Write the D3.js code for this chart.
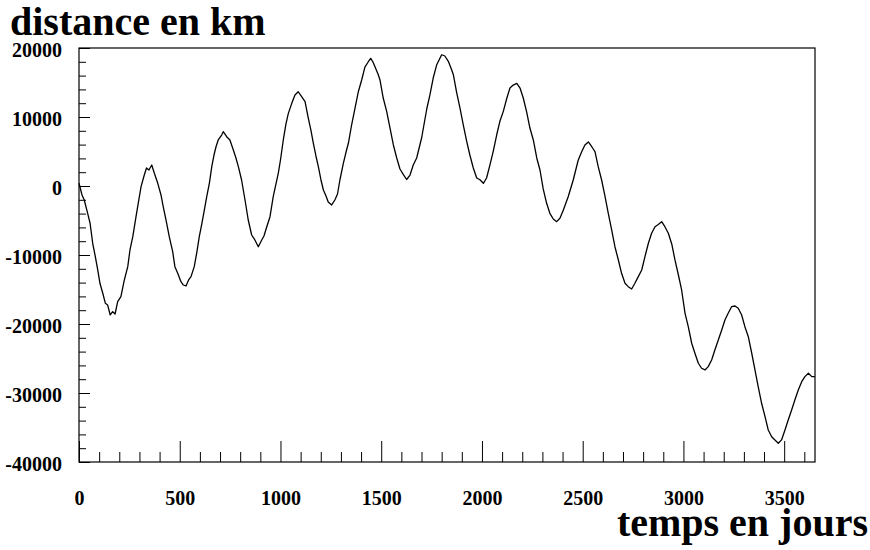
<!DOCTYPE html>
<html><head><meta charset="utf-8">
<script src="https://cdn.jsdelivr.net/npm/d3@7"></script>
<style>
body{margin:0;background:#fff}
svg{display:block}
text{font-family:"Liberation Serif","Times New Roman",serif;font-weight:bold;fill:#000}
</style>
</head><body><svg id="c" width="870" height="550"></svg>
<script>
// ---- data ----
const days=[0,15,26,43,55,68,81,93,104,118,131,142,155,167,179,192,208,225,242,253,267,283,294,308,324,335,347,361,374,391,407,418,432,448,465,476,490,506,518,531,544,556,572,584,597,610,622,634,647,659,670,680,691,708,716,733,749,766,779,791,807,824,840,857,873,890,907,918,932,948,964,989,1000,1014,1027,1039,1056,1072,1088,1105,1122,1138,1151,1163,1176,1188,1201,1213,1226,1237,1254,1270,1283,1295,1312,1328,1337,1353,1370,1386,1403,1419,1436,1448,1459,1469,1484,1494,1510,1527,1543,1560,1577,1593,1610,1626,1643,1659,1676,1701,1726,1742,1758,1775,1792,1800,1816,1833,1850,1858,1874,1891,1907,1924,1940,1957,1974,1990,2007,2023,2040,2056,2073,2089,2106,2123,2139,2155,2173,2189,2205,2222,2238,2255,2272,2288,2304,2321,2337,2354,2371,2387,2404,2428,2453,2478,2495,2511,2528,2545,2561,2577,2594,2611,2627,2644,2660,2677,2693,2710,2726,2743,2759,2776,2793,2809,2826,2842,2859,2875,2892,2908,2925,2942,2958,2975,2991,3008,3024,3041,3057,3074,3090,3107,3123,3140,3156,3173,3190,3206,3222,3239,3256,3272,3289,3305,3322,3339,3355,3371,3388,3405,3421,3438,3454,3471,3487,3504,3520,3537,3553,3570,3587,3603,3620,3637,3653];
const distanceKm=[400,-1300,-2030,-3960,-5400,-8300,-10240,-12170,-14100,-15550,-17000,-17240,-18690,-18210,-18550,-16760,-16040,-13620,-11690,-9270,-7340,-4450,-2510,-100,1590,2610,2320,3040,1840,390,-1300,-3000,-4930,-7350,-9520,-11690,-12650,-13870,-14350,-14490,-13620,-13140,-11690,-9750,-7350,-5400,-3480,-1550,390,2800,4490,5690,6670,7390,7870,7140,6670,5220,4060,2800,870,-2030,-4930,-7100,-7820,-8800,-7820,-7250,-5900,-4450,-1550,1840,3770,6670,8980,10530,11980,13190,13660,12940,12220,9850,8110,6230,4350,2800,870,-580,-1450,-2320,-2750,-2030,-1160,870,3290,5220,6190,8840,11300,13620,15360,17240,18010,18500,17970,17290,16230,15360,12750,10820,8480,5980,4060,2460,1640,940,1590,3040,4060,7030,11160,13230,15650,17530,18550,19020,18840,18070,16810,16130,13620,11300,8880,6520,4490,2610,1160,910,390,1160,3090,5030,7390,9380,10820,12680,14200,14630,14880,14200,12750,10720,8400,6670,4060,2320,-430,-2510,-3960,-4780,-5170,-4680,-3480,-1550,870,3770,4970,5940,6380,5690,4970,2800,870,-1550,-3960,-6380,-8800,-10720,-12650,-14100,-14590,-14920,-14100,-13140,-12170,-10240,-8300,-6850,-5900,-5580,-5170,-5900,-6850,-8400,-10720,-12900,-15070,-18450,-20390,-22790,-24240,-25690,-26410,-26660,-26180,-25210,-23760,-22310,-20860,-19410,-18450,-17490,-17390,-17720,-18690,-20390,-21840,-24240,-26660,-29080,-31490,-33430,-35360,-36330,-36800,-37280,-36800,-35360,-33910,-32460,-31010,-29560,-28360,-27630,-27140,-27630,-27630];
const xMajorTicks=[0,500,1000,1500,2000,2500,3000,3500];
const yMajorTicks=[-40000,-30000,-20000,-10000,0,10000,20000];
const yTitle="distance en km";
const xTitle="temps en jours";

// ---- chart ----
const svg=d3.select("#c");
const W=870,H=550;
const L=79,R=815,T=48,B=462;
const x=d3.scaleLinear().domain([0,3653]).range([L,R]);
const y=d3.scaleLinear().domain([-40000,20000]).range([B,T]);
const fmt=d=>String(d); // plain hyphen minus, as in the reference

svg.append("rect").attr("width",W).attr("height",H).attr("fill","#fff");

const xMinor=d3.range(0,3653,100).filter(v=>v%500!==0);
const yMinor=d3.range(-40000,20001,2000).filter(v=>v%10000!==0);

// x axis: minor ticks
svg.append("g").attr("transform",`translate(0,${B})`)
  .call(d3.axisBottom(x).tickValues(xMinor).tickSize(-10).tickSizeOuter(0).tickFormat(""))
  .call(g=>g.select(".domain").remove());
// x axis: major ticks + labels
svg.append("g").attr("transform",`translate(0,${B})`)
  .call(d3.axisBottom(x).tickValues(xMajorTicks).tickSize(-21).tickSizeOuter(0).tickPadding(29).tickFormat(fmt))
  .call(g=>g.select(".domain").remove())
  .call(g=>g.selectAll("text").attr("font-size",20).style("font-family",'"Liberation Serif",serif').style("font-weight","bold"));
// y axis: minor
svg.append("g").attr("transform",`translate(${L},0)`)
  .call(d3.axisLeft(y).tickValues(yMinor).tickSize(-7).tickSizeOuter(0).tickFormat(""))
  .call(g=>g.select(".domain").remove());
// y axis: major + labels
svg.append("g").attr("transform",`translate(${L},0)`)
  .call(d3.axisLeft(y).tickValues(yMajorTicks).tickSize(-11).tickSizeOuter(0).tickPadding(17).tickFormat(fmt))
  .call(g=>g.select(".domain").remove())
  .call(g=>g.selectAll("text").attr("font-size",20).attr("dy","0.42em").style("font-family",'"Liberation Serif",serif').style("font-weight","bold"));

svg.selectAll(".tick line").attr("stroke","#000").attr("stroke-width",1);

// frame
svg.append("rect").attr("x",L).attr("y",T).attr("width",R-L).attr("height",B-T)
  .attr("fill","none").attr("stroke","#000").attr("stroke-width",1.2);

// curve
const pts=d3.zip(days,distanceKm);
svg.append("path").datum(pts)
  .attr("fill","none").attr("stroke","#000").attr("stroke-width",1.3)
  .attr("stroke-linejoin","round")
  .attr("d",d3.line().x(d=>x(d[0])).y(d=>y(d[1])));

// titles
svg.append("text").attr("x",10).attr("y",35).attr("font-size",40).text(yTitle);
svg.append("text").attr("x",868).attr("y",536).attr("text-anchor","end").attr("font-size",40).text(xTitle);
</script>
</body></html>
